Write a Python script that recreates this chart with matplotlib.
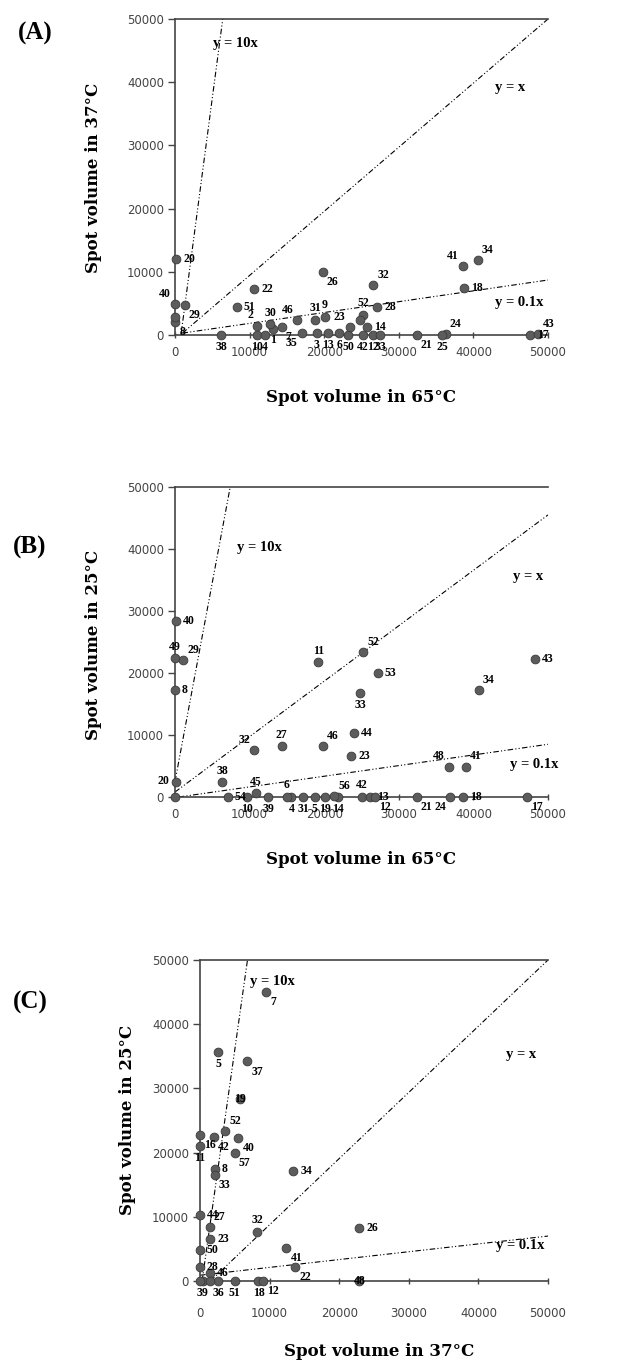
import numpy as np
import matplotlib.pyplot as plt

# ---- panel A: 65C (x) vs 37C (y)
a_lbl = ['20', '40', '29', '8', '', '38', '22', '51', '26', '32', '41', '34', '18', '24', '25',
         '21', '17', '43', '10', '4', '1', '7', '2', '30', '35', '46', '31', '9', '3', '13',
         '6', '50', '23', '52', '28', '14', '', '42', '12', '33']
a_x = [200, 0, 1300, 0, 0, 6200, 10600, 8300, 19800, 26600, 38600, 40600, 38700, 36300, 35800,
       32400, 47600, 48700, 11000, 12000, 13100, 14300, 11000, 12800, 17000, 16400, 18800, 20100, 19000, 20500,
       22000, 23200, 23400, 25200, 27100, 25700, 24800, 25200, 26500, 27500]
a_y = [12000, 4900, 4800, 2100, 2800, 0, 7300, 4400, 10000, 7900, 10900, 11900, 7400, 200, 0,
       0, 0, 200, 0, 0, 1000, 1300, 1500, 1700, 300, 2400, 2400, 2900, 300, 300,
       300, 0, 1300, 3200, 4400, 1300, 2400, 0, 0, 0]
a_pos = ['r', 'al', 'br', 'br', '', 'b', 'r', 'r', 'br', 'ar', 'al', 'ar', 'r', 'ar', 'b',
         'br', 'r', 'ar', 'b', 'b', 'b', 'br', 'al', 'a', 'bl', 'al', 'a', 'a', 'b', 'b',
         'b', 'b', 'al', 'a', 'r', 'r', '', 'b', 'b', 'b']

# ---- panel B: 65C (x) vs 25C (y)
b_lbl = ['40', '49', '29', '8', '20', '', '38', '32', '27', '11', '46', '52', '53', '33', '44',
         '23', '48', '41', '34', '43', '54', '10', '45', '39', '4', '6', '31', '5', '19', '14',
         '56', '42', '13', '12', '21', '24', '18', '17']
b_x = [130, 0, 1100, 0, 200, 0, 6300, 10600, 14300, 19200, 19800, 25200, 27200, 24800, 24000,
       23600, 36700, 39000, 40700, 48200, 7100, 9700, 10800, 12500, 15600, 15000, 17200, 18700, 20100, 21800,
       21300, 25000, 26100, 26800, 32400, 36900, 38600, 47200]
b_y = [28400, 22400, 22100, 17300, 2500, 0, 2400, 7600, 8200, 21700, 8200, 23400, 20000, 16700, 10400,
       6600, 4900, 4900, 17300, 22300, 0, 0, 600, 0, 0, 0, 0, 0, 0, 0,
       200, 0, 0, 0, 0, 0, 0, 0]
b_pos = ['r', 'a', 'ar', 'r', 'l', '', 'a', 'al', 'a', 'a', 'ar', 'ar', 'r', 'b', 'r',
         'r', 'al', 'ar', 'ar', 'r', 'r', 'b', 'a', 'b', 'b', 'a', 'b', 'b', 'b', 'b',
         'ar', 'a', 'r', 'br', 'br', 'bl', 'r', 'br']

# ---- panel C: 37C (x) vs 25C (y)
c_lbl = ['7', '5', '37', '19', '52', '40', '16', '42', '11', '57', '8', '33', '34', '44', '27',
         '32', '26', '41', '22', '23', '50', '28', '46', '39', '36', '51', '18', '12', '48', '', '']
c_x = [9500, 2600, 6800, 5700, 3600, 5500, 0, 2000, 0, 5000, 2100, 2100, 13400, 0, 1400,
       8200, 22900, 12400, 13700, 1500, 0, 0, 1400, 400, 2600, 5000, 8400, 9100, 22900, 0, 1400]
c_y = [45000, 35600, 34200, 28300, 23300, 22300, 22800, 22400, 21000, 20000, 17500, 16500, 17200, 10300, 8400,
       7700, 8200, 5100, 2200, 6500, 4800, 2200, 1200, 0, 0, 0, 0, 0, 0, 0, 0]
c_pos = ['br', 'b', 'br', 'c', 'ar', 'br', 'br', 'br', 'b', 'br', 'r', 'br', 'r', 'r', 'ar',
         'a', 'r', 'br', 'br', 'r', 'r', 'r', 'r', 'b', 'b', 'b', 'b', 'br', 'c', '', '']

# reference lines (end points) and their captions
guide_txt = ['y = 10x', 'y = x', 'y = 0.1x']
a_gx = [[800, 6400], [1000, 50000], [1000, 50000]]
a_gy = [[0, 50000], [300, 50000], [300, 8700]]
a_tx = [5100, 42900, 42900]
a_ty = [46200, 39200, 5100]
b_gx = [[0, 7400], [0, 50000], [500, 50000]]
b_gy = [[2500, 50000], [800, 45500], [0, 8500]]
b_tx = [8300, 45300, 44900]
b_ty = [40200, 35500, 5200]
c_gx = [[300, 6820], [1500, 50000], [0, 50000]]
c_gy = [[0, 50000], [0, 50000], [900, 7000]]
c_tx = [7200, 44000, 42500]
c_ty = [46700, 35300, 5600]

ticks = [0, 10000, 20000, 30000, 40000, 50000]

W, H = 619, 1366
serif = 'Liberation Serif'

offs = {'r': (5, 0, 'left', 'center'), 'l': (-5, 0, 'right', 'center'),
        'a': (0, 4, 'center', 'bottom'), 'b': (0, -4, 'center', 'top'),
        'ar': (3, 3, 'left', 'bottom'), 'al': (-3, 3, 'right', 'bottom'),
        'br': (3, -3, 'left', 'top'), 'bl': (-3, -3, 'right', 'top'),
        'c': (0, 0, 'center', 'center')}


def box(l, r, t, b):
    return [l / W, 1 - b / H, (r - l) / W, (b - t) / H]


def panel(rect, xs, ys, lbls, pos, gx, gy, tx, ty, xpad):
    ax = fig.add_axes(rect)
    ax.set_xlim(0, 50000)
    ax.set_ylim(0, 50000)
    ax.spines['right'].set_visible(False)
    for sp in ['left', 'bottom', 'top']:
        ax.spines[sp].set_color('#444444')
        ax.spines[sp].set_linewidth(1.2)
    ax.set_xticks(ticks)
    ax.set_yticks(ticks)
    ax.set_xticklabels([str(t) for t in ticks])
    ax.set_yticklabels([str(t) for t in ticks])
    ax.tick_params(axis='y', direction='out', length=5, width=1, color='#444444',
                   labelsize=8.5, labelcolor='#444444', pad=3)
    ax.tick_params(axis='x', direction='inout', length=4, width=1, color='#444444',
                   labelsize=8.5, labelcolor='#444444', pad=xpad)

    for i in range(3):
        ax.plot(gx[i], gy[i], color='black', lw=0.8,
                linestyle=(0, (5, 2, 1, 2, 1, 2)), zorder=2)
        ax.text(tx[i], ty[i], guide_txt[i], family=serif, fontweight='bold',
                fontsize=10.5, ha='left', va='center', zorder=5)

    ax.scatter(xs, ys, s=40, color='#5c5c5c', edgecolors='#3a3a3a', linewidths=0.6,
               zorder=3, clip_on=False)
    for x, y, t, p in zip(xs, ys, lbls, pos):
        if not t:
            continue
        dx, dy, ha, va = offs[p]
        ax.annotate(t, (x, y), xytext=(dx, dy), textcoords='offset points',
                    ha=ha, va=va, family=serif, fontweight='bold', fontsize=8.5,
                    zorder=6, annotation_clip=False)
    return ax


fig = plt.figure(figsize=(W / 100, H / 100), dpi=100)

panel(box(175, 548, 19, 335), a_x, a_y, a_lbl, a_pos, a_gx, a_gy, a_tx, a_ty, 6)
panel(box(175, 548, 487, 797), b_x, b_y, b_lbl, b_pos, b_gx, b_gy, b_tx, b_ty, 6)
panel(box(200, 548, 960, 1281), c_x, c_y, c_lbl, c_pos, c_gx, c_gy, c_tx, c_ty, 17)


def ftext(x, y, s, **kw):
    fig.text(x / W, 1 - y / H, s, **kw)


lab = dict(family='DejaVu Serif', fontweight='bold', fontsize=12, ha='center', va='center')
ftext(35, 33, '(A)', family=serif, fontweight='bold', fontsize=18, ha='center', va='center')
ftext(30, 547, '(B)', family=serif, fontweight='bold', fontsize=18, ha='center', va='center')
ftext(30, 1002, '(C)', family=serif, fontweight='bold', fontsize=18, ha='center', va='center')

ftext(93, 178, 'Spot volume in 37°C', rotation=90, **lab)
ftext(93, 645, 'Spot volume in 25°C', rotation=90, **lab)
ftext(128, 1120, 'Spot volume in 25°C', rotation=90, **lab)

ftext(361, 398, 'Spot volume in 65°C', **lab)
ftext(361, 860, 'Spot volume in 65°C', **lab)
ftext(379, 1352, 'Spot volume in 37°C', **lab)

fig.savefig('out.png', dpi=100)
